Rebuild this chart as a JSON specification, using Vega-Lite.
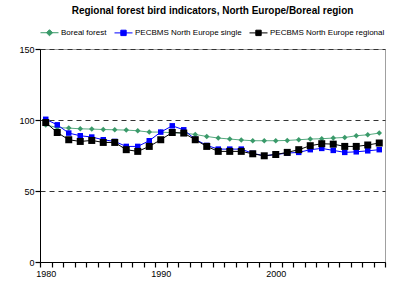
{
  "$schema": "https://vega.github.io/schema/vega-lite/v6.json",
  "width": 345,
  "height": 213,
  "autosize": {"type": "none"},
  "padding": {"left": 40, "top": 49, "right": 18, "bottom": 32},
  "background": "white",
  "title": {
    "text": "Regional forest bird indicators, North Europe/Boreal region",
    "font": "Liberation Sans",
    "fontSize": 10,
    "fontWeight": "bold",
    "color": "black",
    "anchor": "middle",
    "offset": 7
  },
  "config": {
    "font": "Liberation Sans",
    "view": {"stroke": "#a0a0a0", "strokeWidth": 1}
  },
  "datasets": {
    "birds": [
      {"year": 1980, "series": "Boreal forest", "value": 96.5},
      {"year": 1981, "series": "Boreal forest", "value": 94.7},
      {"year": 1982, "series": "Boreal forest", "value": 94.3},
      {"year": 1983, "series": "Boreal forest", "value": 93.8},
      {"year": 1984, "series": "Boreal forest", "value": 93.6},
      {"year": 1985, "series": "Boreal forest", "value": 93.3},
      {"year": 1986, "series": "Boreal forest", "value": 93.1},
      {"year": 1987, "series": "Boreal forest", "value": 92.9},
      {"year": 1988, "series": "Boreal forest", "value": 92.4},
      {"year": 1989, "series": "Boreal forest", "value": 91.5},
      {"year": 1990, "series": "Boreal forest", "value": 91.5},
      {"year": 1991, "series": "Boreal forest", "value": 91.0},
      {"year": 1992, "series": "Boreal forest", "value": 90.8},
      {"year": 1993, "series": "Boreal forest", "value": 89.8},
      {"year": 1994, "series": "Boreal forest", "value": 88.4},
      {"year": 1995, "series": "Boreal forest", "value": 87.3},
      {"year": 1996, "series": "Boreal forest", "value": 86.6},
      {"year": 1997, "series": "Boreal forest", "value": 85.9},
      {"year": 1998, "series": "Boreal forest", "value": 85.4},
      {"year": 1999, "series": "Boreal forest", "value": 85.4},
      {"year": 2000, "series": "Boreal forest", "value": 85.4},
      {"year": 2001, "series": "Boreal forest", "value": 85.6},
      {"year": 2002, "series": "Boreal forest", "value": 86.1},
      {"year": 2003, "series": "Boreal forest", "value": 86.6},
      {"year": 2004, "series": "Boreal forest", "value": 86.8},
      {"year": 2005, "series": "Boreal forest", "value": 87.3},
      {"year": 2006, "series": "Boreal forest", "value": 87.7},
      {"year": 2007, "series": "Boreal forest", "value": 88.9},
      {"year": 2008, "series": "Boreal forest", "value": 89.6},
      {"year": 2009, "series": "Boreal forest", "value": 90.8},
      {"year": 1980, "series": "PECBMS North Europe single", "value": 100.5},
      {"year": 1981, "series": "PECBMS North Europe single", "value": 96.6},
      {"year": 1982, "series": "PECBMS North Europe single", "value": 90.8},
      {"year": 1983, "series": "PECBMS North Europe single", "value": 88.9},
      {"year": 1984, "series": "PECBMS North Europe single", "value": 88.0},
      {"year": 1985, "series": "PECBMS North Europe single", "value": 86.1},
      {"year": 1986, "series": "PECBMS North Europe single", "value": 84.9},
      {"year": 1987, "series": "PECBMS North Europe single", "value": 81.4},
      {"year": 1988, "series": "PECBMS North Europe single", "value": 81.4},
      {"year": 1989, "series": "PECBMS North Europe single", "value": 85.4},
      {"year": 1990, "series": "PECBMS North Europe single", "value": 91.5},
      {"year": 1991, "series": "PECBMS North Europe single", "value": 95.9},
      {"year": 1992, "series": "PECBMS North Europe single", "value": 93.1},
      {"year": 1993, "series": "PECBMS North Europe single", "value": 86.4},
      {"year": 1994, "series": "PECBMS North Europe single", "value": 82.1},
      {"year": 1995, "series": "PECBMS North Europe single", "value": 79.5},
      {"year": 1996, "series": "PECBMS North Europe single", "value": 79.5},
      {"year": 1997, "series": "PECBMS North Europe single", "value": 79.5},
      {"year": 1998, "series": "PECBMS North Europe single", "value": 76.5},
      {"year": 1999, "series": "PECBMS North Europe single", "value": 74.8},
      {"year": 2000, "series": "PECBMS North Europe single", "value": 75.7},
      {"year": 2001, "series": "PECBMS North Europe single", "value": 76.7},
      {"year": 2002, "series": "PECBMS North Europe single", "value": 77.2},
      {"year": 2003, "series": "PECBMS North Europe single", "value": 79.1},
      {"year": 2004, "series": "PECBMS North Europe single", "value": 80.0},
      {"year": 2005, "series": "PECBMS North Europe single", "value": 78.6},
      {"year": 2006, "series": "PECBMS North Europe single", "value": 77.2},
      {"year": 2007, "series": "PECBMS North Europe single", "value": 77.6},
      {"year": 2008, "series": "PECBMS North Europe single", "value": 78.3},
      {"year": 2009, "series": "PECBMS North Europe single", "value": 79.1},
      {"year": 1980, "series": "PECBMS North Europe regional", "value": 98.2},
      {"year": 1981, "series": "PECBMS North Europe regional", "value": 91.2},
      {"year": 1982, "series": "PECBMS North Europe regional", "value": 86.1},
      {"year": 1983, "series": "PECBMS North Europe regional", "value": 84.9},
      {"year": 1984, "series": "PECBMS North Europe regional", "value": 85.6},
      {"year": 1985, "series": "PECBMS North Europe regional", "value": 84.2},
      {"year": 1986, "series": "PECBMS North Europe regional", "value": 84.2},
      {"year": 1987, "series": "PECBMS North Europe regional", "value": 79.1},
      {"year": 1988, "series": "PECBMS North Europe regional", "value": 77.9},
      {"year": 1989, "series": "PECBMS North Europe regional", "value": 81.4},
      {"year": 1990, "series": "PECBMS North Europe regional", "value": 86.1},
      {"year": 1991, "series": "PECBMS North Europe regional", "value": 91.2},
      {"year": 1992, "series": "PECBMS North Europe regional", "value": 90.8},
      {"year": 1993, "series": "PECBMS North Europe regional", "value": 86.1},
      {"year": 1994, "series": "PECBMS North Europe regional", "value": 81.4},
      {"year": 1995, "series": "PECBMS North Europe regional", "value": 77.9},
      {"year": 1996, "series": "PECBMS North Europe regional", "value": 77.9},
      {"year": 1997, "series": "PECBMS North Europe regional", "value": 77.9},
      {"year": 1998, "series": "PECBMS North Europe regional", "value": 76.2},
      {"year": 1999, "series": "PECBMS North Europe regional", "value": 74.8},
      {"year": 2000, "series": "PECBMS North Europe regional", "value": 75.7},
      {"year": 2001, "series": "PECBMS North Europe regional", "value": 77.2},
      {"year": 2002, "series": "PECBMS North Europe regional", "value": 79.1},
      {"year": 2003, "series": "PECBMS North Europe regional", "value": 81.9},
      {"year": 2004, "series": "PECBMS North Europe regional", "value": 83.3},
      {"year": 2005, "series": "PECBMS North Europe regional", "value": 83.0},
      {"year": 2006, "series": "PECBMS North Europe regional", "value": 81.4},
      {"year": 2007, "series": "PECBMS North Europe regional", "value": 81.4},
      {"year": 2008, "series": "PECBMS North Europe regional", "value": 82.4},
      {"year": 2009, "series": "PECBMS North Europe regional", "value": 83.8}
    ]
  },
  "data": {"name": "birds"},
  "encoding": {
    "x": {
      "field": "year",
      "type": "ordinal",
      "scale": {"type": "band", "paddingInner": 0, "paddingOuter": 0},
      "axis": {
        "title": null,
        "labelAngle": 0,
        "labelExpr": "datum.value % 10 === 0 ? datum.label : ''",
        "ticks": true,
        "tickBand": "extent",
        "tickSize": 5,
        "tickWidth": 1.2,
        "tickColor": "#000000",
        "tickOpacity": 1,
        "domainColor": "black",
        "labelColor": "black",
        "labelFontSize": 9,
        "labelPadding": 2,
        "grid": false
      }
    },
    "y": {
      "field": "value",
      "type": "quantitative",
      "scale": {"domain": [0, 150], "nice": false},
      "axis": {
        "title": null,
        "values": [0, 50, 100, 150],
        "ticks": true,
        "tickSize": 5,
        "tickWidth": 1.2,
        "tickColor": "#000000",
        "tickOpacity": 1,
        "domainColor": "black",
        "labelColor": "black",
        "labelFontSize": 9,
        "labelPadding": 1,
        "grid": true,
        "gridColor": "#333333",
        "gridDash": [5, 4],
        "gridWidth": 1
      }
    },
    "color": {
      "field": "series",
      "type": "nominal",
      "sort": ["Boreal forest", "PECBMS North Europe single", "PECBMS North Europe regional"],
      "scale": {
        "domain": ["Boreal forest", "PECBMS North Europe single", "PECBMS North Europe regional"],
        "range": ["#3a9a6a", "#0000ff", "#000000"]
      },
      "legend": {
        "title": null,
        "orient": "top",
        "direction": "horizontal",
        "offset": 11,
        "labelFontSize": 8,
        "labelColor": "black",
        "symbolSize": 324,
        "symbolType": "M-1,0H1M-0.3,-0.3H0.3V0.3H-0.3Z",
        "columnPadding": 5,
        "symbolStrokeWidth": 1,
        "symbolOpacity": 1,
        "labelOffset": 2,
        "encode": {
          "symbols": {
            "update": {
              "shape": {"signal": "datum.value === 'Boreal forest' ? 'M-1,0H1M-0.34,0L0,-0.34L0.34,0L0,0.34Z' : 'M-1,0H1M-0.3,-0.3H0.3V0.3H-0.3Z'"},
              "stroke": {"scale": "color", "field": "value"},
              "fill": {"scale": "color", "field": "value"},
              "strokeWidth": {"value": 1},
              "size": {"value": 324}
            }
          }
        }
      }
    }
  },
  "layer": [
    {
      "mark": {"type": "line", "strokeWidth": 1},
      "encoding": {
        "strokeWidth": {
          "condition": {"test": "datum.series === 'Boreal forest'", "value": 1.6},
          "value": 1
        },
        "opacity": {
          "condition": {"test": "datum.series === 'Boreal forest'", "value": 0.85},
          "value": 1
        }
      }
    },
    {
      "mark": {"type": "point", "filled": true, "opacity": 1},
      "encoding": {
        "shape": {
          "condition": {"test": "datum.series === 'Boreal forest'", "value": "diamond"},
          "value": "square"
        },
        "size": {
          "condition": {"test": "datum.series === 'PECBMS North Europe regional'", "value": 49},
          "value": 30
        }
      }
    }
  ]
}
